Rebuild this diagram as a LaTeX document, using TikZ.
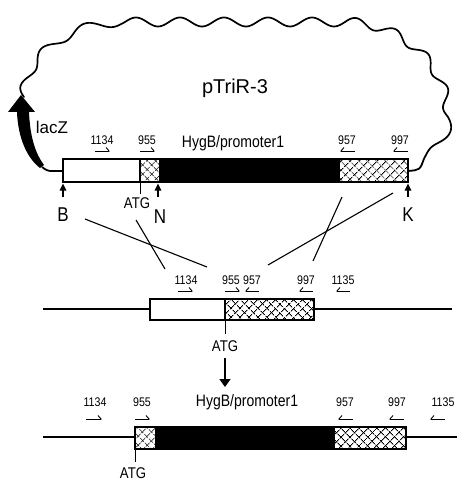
\documentclass[tikz,border=0pt]{standalone}
\usepackage{fontspec}
\setmainfont{Liberation Sans}
\newfontfamily\condfont[FakeStretch=0.85]{Liberation Sans}
\usetikzlibrary{arrows.meta,patterns.meta}
\begin{document}
\begin{tikzpicture}[x=1pt,y=-1pt,
  dna/.style={line width=1.8pt},
  boxline/.style={line width=1.5pt},
  hatch/.style={pattern={Lines[angle=45,distance=6.5pt,line width=0.8pt]},
    postaction={pattern={Lines[angle=-45,distance=6.5pt,line width=0.8pt]}}},
  num/.style={font=\condfont\fontsize{12.5}{12.5}\selectfont, inner sep=0pt},
  big/.style={font=\condfont\fontsize{16.5}{16.5}\selectfont, inner sep=0pt},
  site/.style={font=\condfont\fontsize{20}{20}\selectfont, inner sep=0pt},
  atg/.style={font=\condfont\fontsize{15.5}{15.5}\selectfont, inner sep=0pt},
  fwd/.style={line width=0.9pt, -{Straight Barb[left,length=3pt,width=7pt]}},
  rev/.style={line width=0.9pt, -{Straight Barb[right,length=3pt,width=7pt]}},
  cut/.style={line width=1.4pt, -{Triangle[length=7pt,width=6.5pt]}},
  cross/.style={line width=1.1pt},
  wavy/.style={line width=1.7pt, line join=round, line cap=round}]
\useasboundingbox (0,0) rectangle (457,481);

% ---------------- top plasmid ----------------
\node[font=\fontsize{20}{20}\selectfont, inner sep=0pt] (ptr) at (235,88) {pTriR-3};
\node[font=\fontsize{17}{17}\selectfont, inner sep=0pt] (lacz) at (52,127) {lacZ};

% lacZ arrow
\fill (40,168) .. controls (27,158) and (18,138) .. (17,112) -- (8,112) -- (21,95)
  -- (35,112) -- (29,112) .. controls (30,136) and (35,153) .. (44,165) -- cycle;
\coordinate (laczfoot) at (42,167);

% box coordinates
\coordinate (t1) at (63,159);
\coordinate (t2) at (140,159);
\coordinate (t3) at (159,159);
\coordinate (t4) at (340,159);
\coordinate (t5) at (408,182);
\coordinate (tL) at (63,171);
\coordinate (tR) at (408,171);

% wavy backbone
\draw[wavy]
  plot[smooth, domain=0:1, samples=90, variable=\u]
    ({125 + (101 + 4.5*sin(1080*\u))*cos(180-90*\u)}, {97 - (75 + 4.5*sin(1080*\u))*sin(180-90*\u)})
  -- plot[smooth, domain=125:345, samples=120, variable=\x]
    (\x, {22 - 4.5*sin(8.181818*(\x-125))})
  -- plot[smooth, domain=0:1, samples=110, variable=\u]
    ({345 + (103 + 4.5*sin(1440*\u))*cos(90-90*\u)}, {117 - (95 + 4.5*sin(1440*\u))*sin(90-90*\u)})
  -- plot[smooth, domain=0:1, samples=40, variable=\u]
    ({400 + (48 + 4.5*sin(360*\u))*cos(-60*\u)}, {117 - (48 + 4.5*sin(360*\u))*sin(-60*\u)})
  coordinate (wend);
\draw[dna] (wend) .. controls (420,170) .. (tR);
\draw[dna] (tL) -- (50,171) .. controls (46,170) .. (laczfoot);

% top construct
\fill[white] (t1) rectangle (140,182);
\path[hatch] (t2) rectangle (159,182);
\fill (t3) rectangle (340,182);
\path[hatch] (t4) rectangle (t5);
\draw[boxline] (t1) rectangle (t5);
\draw[boxline] (140,159) -- (140,182);

\node[big] (hyg1) at (233,143) {HygB/promoter1};
\node[num] (n1134a) at (102,140) {1134};
\node[num] (n955a) at (147,140) {955};
\node[num] (n957a) at (347,140) {957};
\node[num] (n997a) at (400,140) {997};
\draw[fwd] (95,151) -- (110,151);
\draw[fwd] (140,151) -- (155,151);
\draw[rev] (355,151) -- (340,151);
\draw[rev] (408,151) -- (393,151);

% sites
\node[site] (B) at (63,215) {B};
\node[site] (N) at (160,217) {N};
\node[site] (K) at (408,215) {K};
\node[atg] (atgA) at (137,203) {ATG};
\draw[cut] (63,197) -- (63,183.5);
\draw[cut] (158,197) -- (158,183.5);
\draw[cut] (408,197) -- (408,183.5);
\draw[line width=0.9pt] (140,182) -- (140,194);

% crossing lines
\draw[cross] (85,219) -- (207,267);
\draw[cross] (136,220) -- (165,269);
\draw[cross] (393,193) -- (268,265);
\draw[cross] (342,197) -- (313,261);

% ---------------- middle construct ----------------
\draw[dna] (43,309) -- (150,309);
\draw[dna] (314,309) -- (452,309);
\fill[white] (150,299) rectangle (225,320);
\path[hatch] (225,299) rectangle (314,320);
\draw[boxline] (150,299) rectangle (314,320);
\draw[boxline] (225,299) -- (225,320);
\node[num] (n1134b) at (186,280) {1134};
\node[num] (n955b) at (231,280) {955};
\node[num] (n957b) at (252,280) {957};
\node[num] (n997b) at (306,280) {997};
\node[num] (n1135b) at (343,280) {1135};
\draw[fwd] (178,291) -- (193,291);
\draw[fwd] (225,291) -- (240,291);
\draw[rev] (259,291) -- (245,291);
\draw[rev] (313,291) -- (299,291);
\draw[rev] (350,291) -- (336,291);
\draw[line width=0.9pt] (225,320) -- (225,334);
\node[atg] (atgB) at (225,346) {ATG};
\draw[line width=1.4pt, -{Triangle[length=8pt,width=11pt]}] (225,358) -- (225,387);

% ---------------- bottom construct ----------------
\draw[dna] (43,437) -- (135,437);
\draw[dna] (406,437) -- (457,437);
\path[hatch] (135,427) rectangle (155,449);
\fill (155,427) rectangle (335,449);
\path[hatch] (335,427) rectangle (406,449);
\draw[boxline] (135,427) rectangle (406,449);
\node[big] (hyg2) at (247,402) {HygB/promoter1};
\node[num] (n1134c) at (95,402) {1134};
\node[num] (n955c) at (142,402) {955};
\node[num] (n957c) at (345,402) {957};
\node[num] (n997c) at (397,402) {997};
\node[num] (n1135c) at (443,402) {1135};
\draw[fwd] (86,419) -- (102,419);
\draw[fwd] (135,419) -- (150,419);
\draw[rev] (353,419) -- (338,419);
\draw[rev] (404,419) -- (389,419);
\draw[rev] (445,419) -- (430,419);
\draw[line width=0.9pt] (135,449) -- (135,462);
\node[atg] (atgC) at (133,473) {ATG};
\end{tikzpicture}
\end{document}
